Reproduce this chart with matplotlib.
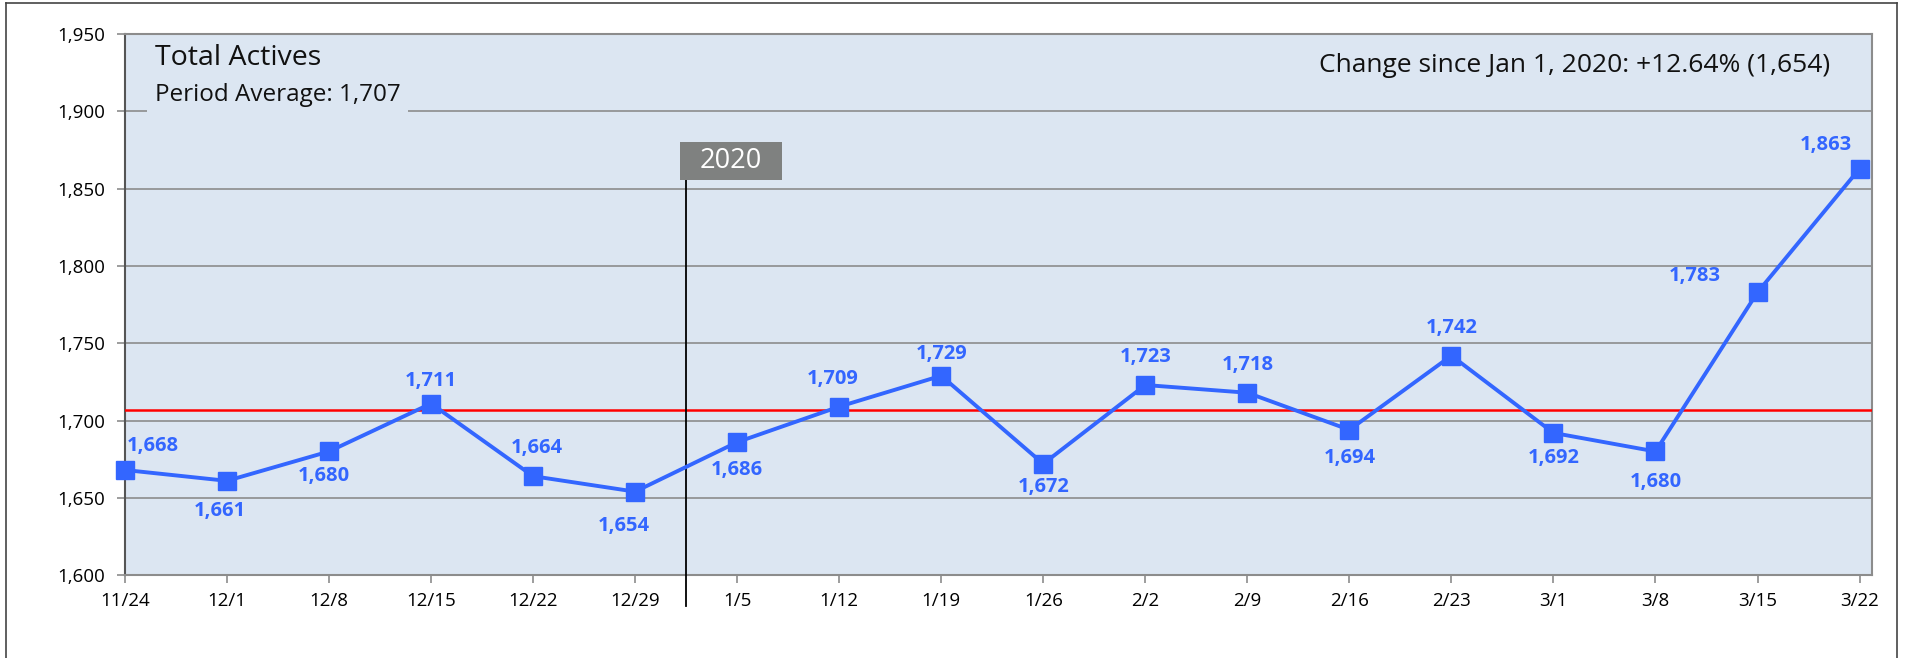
import matplotlib
matplotlib.use("Agg")
import matplotlib.pyplot as plt
from matplotlib.lines import Line2D
from matplotlib.patches import Rectangle

plt.rcParams['font.family'] = ['Open Sans', 'DejaVu Sans']
plt.rcParams['font.weight'] = 'medium'

# data
weeks = ['11/24', '12/1', '12/8', '12/15', '12/22', '12/29', '1/5', '1/12', '1/19',
         '1/26', '2/2', '2/9', '2/16', '2/23', '3/1', '3/8', '3/15', '3/22']
actives = [1668, 1661, 1680, 1711, 1664, 1654, 1686, 1709, 1729,
           1672, 1723, 1718, 1694, 1742, 1692, 1680, 1783, 1863]
period_avg = 1707
year_mark = '2020'
yticks = [1600, 1650, 1700, 1750, 1800, 1850, 1900, 1950]

# label offsets in points (dx, dy), placement only
label_offsets = [(20, 17), (-5, -22), (-4, -18), (0, 16), (3, 20), (-8, -25),
                 (0, -20), (-5, 20), (0, 16), (0, -17), (0, 20), (0, 20),
                 (0, -20), (0, 20), (0, -18), (0, -22), (-45, 12), (-24, 17)]

blue = '#3366ff'
bg = '#dce6f2'
grid_c = '#8c8c8c'

fig = plt.figure(figsize=(19.1, 6.58), dpi=100)
ax = fig.add_axes([0.0654, 0.126, 0.9146, 0.822])
ax.set_facecolor(bg)

x = list(range(len(weeks)))
ax.plot(x, actives, color=blue, lw=2.8, marker='s', ms=13, zorder=4, clip_on=False)
ax.axhline(period_avg, color='#ff0000', lw=1.8, zorder=3)

for xi, v, (dx, dy) in zip(x, actives, label_offsets):
    ax.annotate(f'{v:,}', (xi, v), xytext=(dx, dy), textcoords='offset points',
                ha='center', va='center', color=blue, fontsize=14.5, fontweight='bold', zorder=5)

ax.set_xlim(0, len(weeks) - 1 + 0.12)
ax.set_ylim(yticks[0], yticks[-1])
ax.set_yticks(yticks)
ax.set_yticklabels([f'{t:,}' for t in yticks])
ax.set_xticks(x)
ax.set_xticklabels(weeks)
ax.grid(axis='y', color=grid_c, lw=1.2, zorder=1)
ax.set_axisbelow(True)
ax.tick_params(axis='both', labelsize=13.5, color=grid_c, length=6, width=1.2, direction='out')
ax.tick_params(axis='x', pad=6)
ax.tick_params(axis='y', pad=8)
for s in ax.spines.values():
    s.set_color(grid_c)
    s.set_linewidth(1.5)
ax.spines['left'].set_color('#555555')

# year divider with label box
ax.plot([5.5, 5.5], [1580, 1856], color='black', lw=1.3, clip_on=False, zorder=3)
ax.add_patch(Rectangle((5.44, 1855.6), 1.0, 24.4, facecolor='#7f8180', edgecolor='none', zorder=6))
ax.text(5.94, 1868, year_mark, ha='center', va='center', color='white', fontsize=19.5, zorder=7)

ax.text(0.017, 0.956, 'Total Actives', transform=ax.transAxes, ha='left', va='center',
        fontsize=20.5, color='#111111')
ax.text(0.017, 0.887, f'Period Average: {period_avg:,}', transform=ax.transAxes, ha='left', va='center',
        fontsize=17.5, color='#111111',
        bbox=dict(boxstyle='square,pad=0.3', facecolor=bg, edgecolor='none'), zorder=2)
ax.text(0.976, 0.943, 'Change since Jan 1, 2020: +12.64% (1,654)', transform=ax.transAxes,
        ha='right', va='center', fontsize=19, color='#111111')

# outer frame
for xs, ys in [([0.003, 0.003], [0.0, 0.995]), ([0.003, 0.993], [0.995, 0.995]),
               ([0.993, 0.993], [0.0, 0.995])]:
    fig.add_artist(Line2D(xs, ys, transform=fig.transFigure, color='#444444', lw=1.2))

fig.savefig('out.png', dpi=100)
